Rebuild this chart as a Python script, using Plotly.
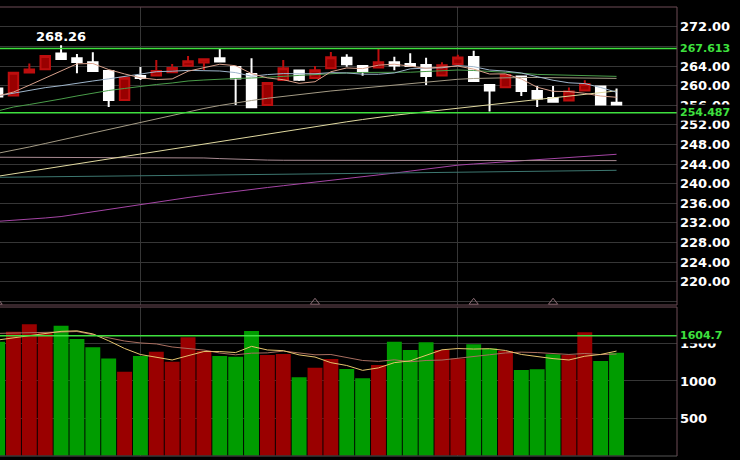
"""Daily candlestick chart with moving averages and volume panel."""

import plotly.graph_objects as go
from plotly.subplots import make_subplots

# trading days (index of each candle in the window)
days = list(range(40))

opens = [259.43, 258.0, 262.69, 263.35, 266.57, 265.59, 264.78, 263.0, 257.08, 261.98,
         262.08, 262.73, 264.08, 264.73, 265.59, 263.82, 262.39, 256.06, 261.16, 263.1,
         261.57, 263.55, 265.71, 264.02, 263.71, 264.78, 264.43, 264.22, 262.08, 264.43,
         265.86, 260.14, 259.67, 261.88, 258.92, 257.49, 256.98, 259.02, 259.84, 256.53]
highs = [259.43, 262.86, 264.53, 266.06, 268.26, 266.47, 266.82, 263.0, 261.63, 263.82,
         265.24, 264.43, 266.06, 265.39, 267.59, 263.82, 265.59, 260.55, 265.24, 263.1,
         264.02, 266.88, 266.41, 264.02, 267.49, 265.92, 266.61, 265.71, 264.78, 266.33,
         267.14, 260.14, 262.18, 261.88, 259.94, 259.94, 259.63, 261.1, 259.84, 259.43]
lows = [257.8, 258.0, 262.69, 263.35, 265.45, 262.53, 263.0, 255.65, 257.08, 261.16,
        262.08, 262.73, 264.08, 263.2, 264.94, 256.06, 255.59, 256.06, 261.16, 260.96,
        261.57, 263.55, 263.88, 262.04, 263.71, 263.16, 264.02, 260.14, 262.08, 264.43,
        260.96, 254.73, 259.67, 257.9, 255.65, 256.73, 256.98, 259.02, 256.16, 256.16]
closes = [257.8, 262.65, 263.31, 266.06, 265.45, 264.84, 263.0, 257.08, 261.63, 261.57,
          263.0, 263.61, 264.98, 265.39, 264.94, 261.47, 255.59, 260.55, 263.55, 261.22,
          263.14, 265.8, 264.37, 262.86, 264.78, 264.12, 264.02, 261.98, 264.16, 265.76,
          260.96, 259.02, 262.18, 258.92, 257.39, 256.73, 258.82, 260.35, 256.16, 256.16]

ma5 = [257.9, 258.7, 260.1, 261.6, 263.05, 264.46, 264.53, 263.29, 262.4, 261.62,
       261.26, 261.38, 262.96, 263.71, 264.38, 264.08, 262.47, 261.59, 261.22, 260.48,
       260.81, 262.85, 263.62, 263.48, 264.19, 264.39, 264.03, 263.55, 263.81, 264.01,
       263.38, 262.38, 262.42, 261.37, 259.69, 258.85, 258.81, 258.44, 257.89, 257.64]
ma10 = [257.9, 258.5, 259.1, 259.6, 260.0, 260.55, 260.96, 261.4, 261.85, 262.34,
        262.86, 262.96, 263.12, 263.06, 263.0, 262.67, 261.93, 262.27, 262.47, 262.43,
        262.44, 262.66, 262.6, 262.35, 262.33, 262.6, 263.44, 263.58, 263.65, 264.1,
        263.88, 263.2, 262.98, 262.59, 261.85, 261.11, 260.59, 260.43, 259.63, 258.67]
ma20 = [254.84, 255.65, 256.16, 256.67, 257.29, 257.9, 258.51, 259.02, 259.43, 259.88,
        260.24, 260.55, 260.96, 261.16, 261.37, 261.47, 261.57, 261.67, 261.9, 262.1,
        262.3, 262.5, 262.6, 262.7, 262.7, 262.7, 262.75, 262.9, 263.0, 263.2,
        263.1, 262.95, 262.8, 262.55, 262.3, 262.2, 262.2, 262.15, 262.0, 261.9]
ma30 = [246.2, 246.78, 247.49, 248.2, 248.92, 249.63, 250.35, 251.06, 251.78, 252.49,
        253.2, 253.92, 254.63, 255.35, 255.96, 256.51, 256.98, 257.43, 257.84, 258.2,
        258.55, 258.92, 259.22, 259.53, 259.84, 260.14, 260.45, 260.76, 261.06, 261.31,
        261.47, 261.57, 261.63, 261.67, 261.67, 261.65, 261.61, 261.57, 261.53, 261.49]
ma60 = [241.51, 242.02, 242.53, 243.06, 243.57, 244.08, 244.59, 245.12, 245.63, 246.14,
        246.65, 247.16, 247.67, 248.18, 248.69, 249.2, 249.71, 250.2, 250.69, 251.18,
        251.67, 252.16, 252.63, 253.1, 253.57, 253.96, 254.33, 254.69, 255.06, 255.43,
        255.78, 256.14, 256.49, 256.84, 257.2, 257.55, 257.9, 258.24, 258.59, 258.94]
ma120 = [245.40, 245.40, 245.39, 245.39, 245.38, 245.38, 245.37, 245.37, 245.36, 245.36,
         245.35, 245.34, 245.33, 245.25, 245.12, 244.98, 244.88, 244.82, 244.78, 244.76,
         244.75, 244.75, 244.74, 244.74, 244.74, 244.73, 244.73, 244.73, 244.73, 244.73,
         244.72, 244.72, 244.72, 244.72, 244.72, 244.72, 244.71, 244.71, 244.71, 244.71]
ma250 = [241.30, 241.33, 241.37, 241.40, 241.44, 241.47, 241.51, 241.54, 241.58, 241.61,
         241.65, 241.68, 241.72, 241.75, 241.79, 241.82, 241.86, 241.89, 241.93, 241.96,
         242.0, 242.03, 242.07, 242.10, 242.14, 242.18, 242.22, 242.26, 242.30, 242.34,
         242.38, 242.42, 242.46, 242.50, 242.54, 242.58, 242.62, 242.66, 242.70, 242.73]
ma_long = [232.31, 232.51, 232.76, 233.0, 233.29, 233.78, 234.31, 234.82, 235.35, 235.86,
           236.31, 236.73, 237.18, 237.61, 238.04, 238.47, 238.88, 239.22, 239.59, 239.94,
           240.31, 240.67, 241.04, 241.41, 241.78, 242.16, 242.57, 242.98, 243.37, 243.78,
           244.02, 244.24, 244.47, 244.69, 244.92, 245.14, 245.37, 245.59, 245.8, 246.0]

volume = [1525, 1659, 1758, 1640, 1739, 1561, 1450, 1302, 1123, 1333,
          1391, 1257, 1584, 1404, 1333, 1324, 1668, 1347, 1360, 1048,
          1177, 1293, 1159, 1035, 1213, 1525, 1414, 1517, 1414, 1302,
          1490, 1436, 1400, 1146, 1155, 1356, 1347, 1651, 1266, 1378]
vol_ma5 = [1548, 1575, 1605, 1635, 1664, 1671, 1630, 1538, 1435, 1354,
           1320, 1281, 1338, 1394, 1394, 1380, 1463, 1415, 1406, 1349,
           1320, 1245, 1207, 1142, 1175, 1245, 1269, 1341, 1417, 1434,
           1427, 1432, 1408, 1355, 1325, 1299, 1281, 1331, 1355, 1400]
vol_ma10 = [1637, 1640, 1645, 1652, 1655, 1662, 1620, 1570, 1535, 1509,
            1496, 1455, 1438, 1414, 1374, 1350, 1372, 1376, 1400, 1372,
            1350, 1354, 1311, 1274, 1262, 1283, 1257, 1274, 1280, 1305,
            1336, 1351, 1375, 1386, 1380, 1363, 1355, 1368, 1353, 1361]

price_ticks = [216, 220, 224, 228, 232, 236, 240, 244, 248, 252, 256, 260, 264, 268, 272]
hidden_price_ticks = [216, 268]   # gridline only, label hidden by the band tag
vol_ticks = [0, 500, 1000, 1500]
month_starts = [9, 29]
event_days = [0, 20, 30, 35]
upper_band, lower_band = 267.613, 254.487
vol_band = 1604.7
peak_day, peak_price = 4, 268.26

FONT = "DejaVu Sans"
GRID = "#363636"
EDGE = "#6f4d57"
GREEN = "#3ee03e"

fig = make_subplots(rows=2, cols=1, shared_xaxes=True, vertical_spacing=0)

fig.add_trace(go.Candlestick(
    x=days, open=opens, high=highs, low=lows, close=closes,
    increasing=dict(line=dict(color="#bd0e0e", width=2), fillcolor="#990000"),
    decreasing=dict(line=dict(color="#ffffff", width=2), fillcolor="#ffffff"),
    whiskerwidth=0, hoverinfo="skip"), row=1, col=1)

ma_lines = [
    (ma_long, "#a545a5"), (ma250, "#3d7770"), (ma120, "#a88a92"),
    (ma60, "#e0d9a0"), (ma30, "#a49b85"), (ma20, "#4a9e4a"),
    (ma10, "#9fb6cc"), (ma5, "#d9a18c"),
]
for values, color in ma_lines:
    fig.add_trace(go.Scatter(x=days, y=values, mode="lines",
                             line=dict(color=color, width=1), hoverinfo="skip"), row=1, col=1)

fig.add_trace(go.Scatter(x=event_days, y=[215.8] * len(event_days), mode="markers",
                         marker=dict(symbol="triangle-up-open", size=8, color="#8c6e76",
                                     line=dict(color="#8c6e76", width=1)),
                         hoverinfo="skip"), row=1, col=1)

bar_colors = ["#9a0000" if c > o else "#009c00" for o, c in zip(opens, closes)]
fig.add_trace(go.Bar(x=days, y=volume, marker=dict(color=bar_colors, line=dict(width=0)),
                     width=0.94, hoverinfo="skip"), row=2, col=1)
fig.add_trace(go.Scatter(x=days, y=vol_ma10, mode="lines",
                         line=dict(color="#a86e60", width=1), hoverinfo="skip"), row=2, col=1)
fig.add_trace(go.Scatter(x=days, y=vol_ma5, mode="lines",
                         line=dict(color="#e6c46e", width=1), hoverinfo="skip"), row=2, col=1)

for lvl in (upper_band, lower_band):
    fig.add_hline(y=lvl, line=dict(color=GREEN, width=1.5), row=1, col=1)
fig.add_hline(y=vol_band, line=dict(color=GREEN, width=1.5), row=2, col=1)

tickfont = dict(family=FONT, size=13, color="white", weight="bold")
xcommon = dict(range=[0.151, 42.81], tickvals=month_starts, showticklabels=False,
               showgrid=True, gridcolor=GRID, gridwidth=1, zeroline=False,
               showline=False, rangeslider=dict(visible=False))
fig.update_xaxes(**xcommon)

fig.update_layout(
    width=740, height=460,
    margin=dict(l=0, r=63, t=7, b=4),
    paper_bgcolor="black", plot_bgcolor="black",
    showlegend=False, hovermode=False, boxgap=0.15,
    yaxis=dict(domain=[0.3363, 1], range=[215.24, 276.06], side="right",
               tickvals=price_ticks,
               ticktext=["" if t in hidden_price_ticks else f"{t:.2f}" for t in price_ticks],
               tickfont=tickfont, showgrid=True, gridcolor=GRID, zeroline=False,
               ticks="", ticklabelstandoff=2),
    yaxis2=dict(domain=[0, 0.3318], range=[-5, 1990], side="right",
                tickvals=vol_ticks,
                ticktext=["" if t == 0 else str(t) for t in vol_ticks],
                tickfont=tickfont, showgrid=True, gridcolor=GRID, zeroline=False,
                ticks="", ticklabelstandoff=2),
)

# panel borders
for yref in ("y domain", "y2 domain"):
    fig.add_shape(type="line", xref="paper", yref=yref, x0=0, x1=1, y0=1, y1=1,
                  line=dict(color=EDGE, width=1))
    fig.add_shape(type="line", xref="paper", yref=yref, x0=1, x1=1, y0=0, y1=1,
                  line=dict(color=EDGE, width=1))
    fig.add_shape(type="line", xref="paper", yref=yref, x0=0, x1=1, y0=0, y1=0,
                  line=dict(color=EDGE if yref == "y domain" else "#555555", width=1))

fig.add_annotation(x=peak_day, y=peak_price, text=f"{peak_price:.2f}", showarrow=False,
                   yanchor="bottom", yshift=-1,
                   font=dict(family=FONT, size=13, color="white", weight="bold"))

for lvl, yref, label in ((upper_band, "y", f"{upper_band:.3f}"),
                         (lower_band, "y", f"{lower_band:.3f}"),
                         (vol_band, "y2", f"{vol_band:.1f}")):
    fig.add_annotation(xref="paper", x=1, xanchor="left", xshift=1, y=lvl, yref=yref,
                       text=label, showarrow=False, bgcolor="black", borderpad=1,
                       font=dict(family=FONT, size=11, color=GREEN, weight="bold"))

# the page is photographed edge to edge, so drop the browser's default body margin
fig.write_html("out.html", config={"displayModeBar": False},
               post_script="document.body.style.margin='0';")
